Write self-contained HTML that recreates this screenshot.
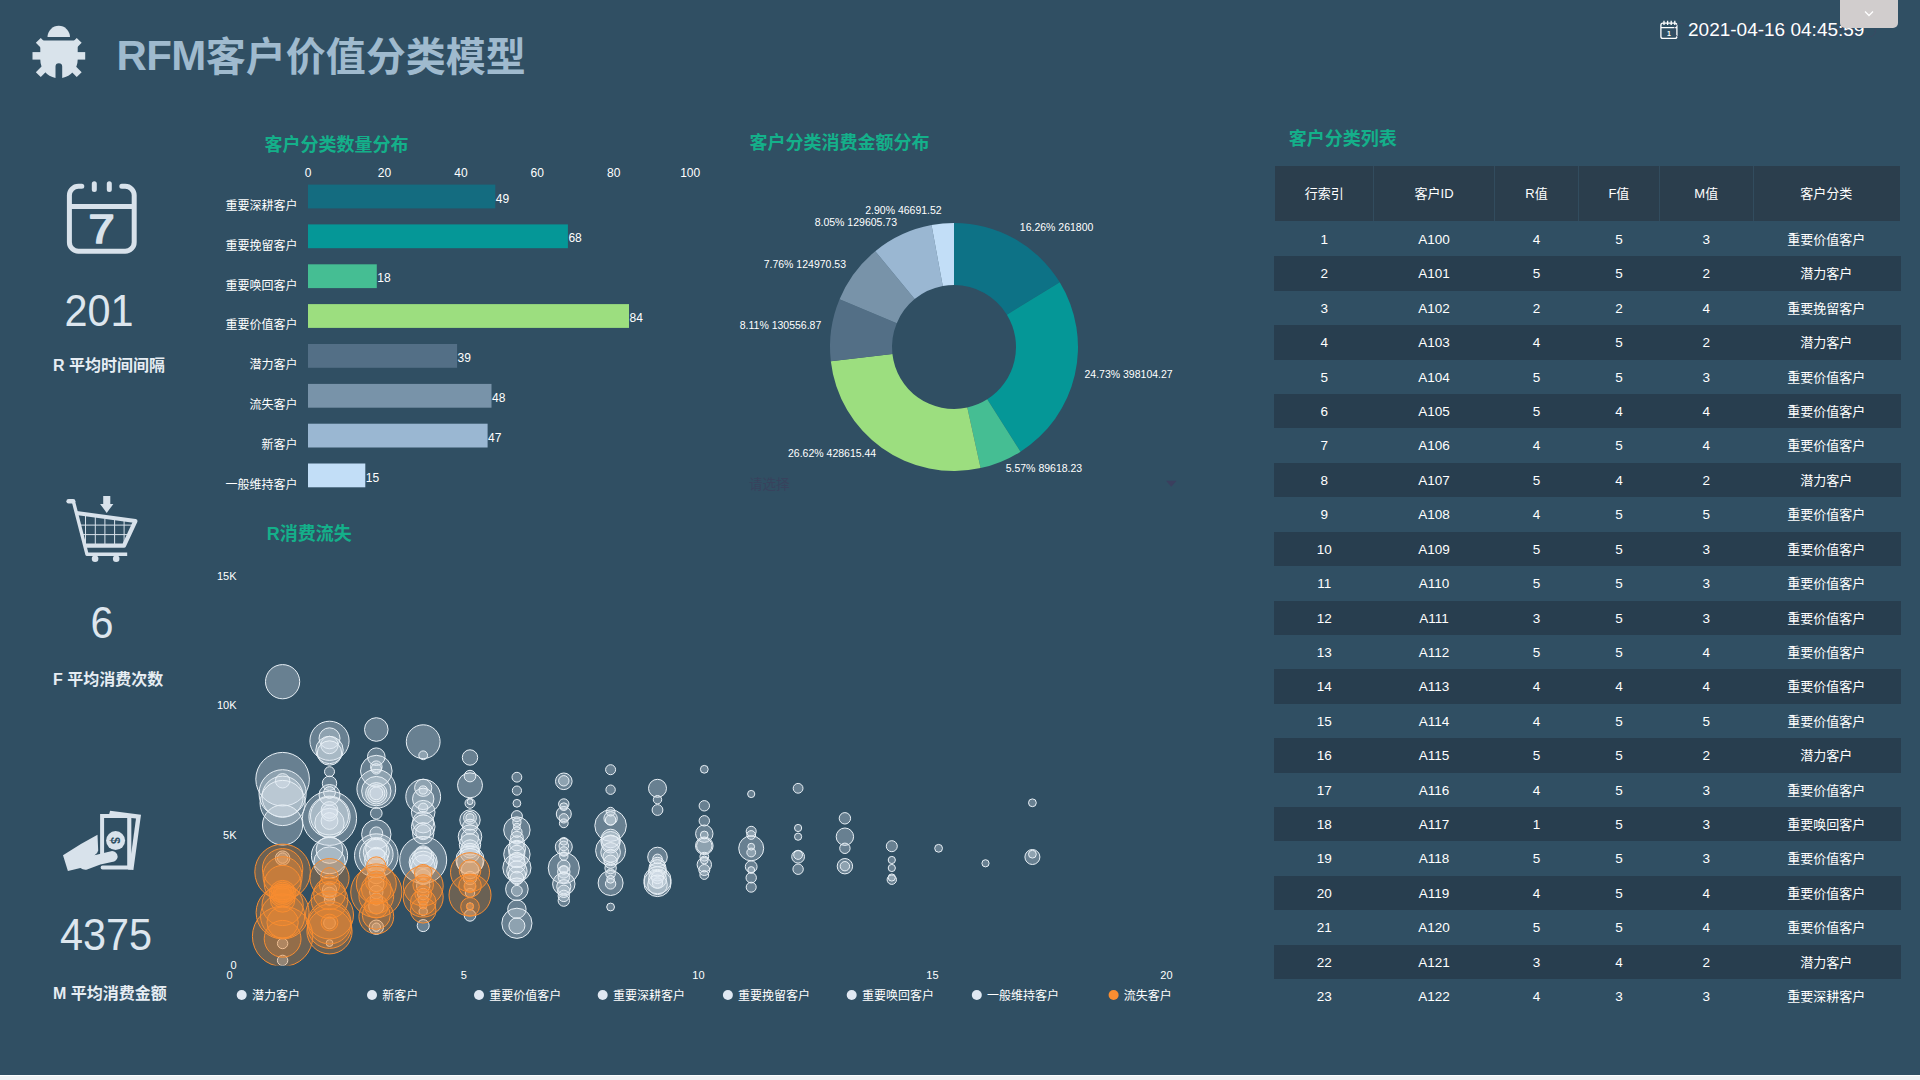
<!DOCTYPE html>
<html lang="zh-CN"><head><meta charset="utf-8"><title>RFM客户价值分类模型</title>
<style>
html,body{margin:0;padding:0}
body{width:1920px;height:1080px;overflow:hidden;background:#304f63;position:relative;font-family:"Liberation Sans","Noto Sans CJK SC",sans-serif;color:#fff}
.abs{position:absolute}
#bottom{position:absolute;left:0;top:1075px;width:1920px;height:5px;background:#f0f2f4;border-top:1px solid #fff;box-sizing:border-box}
#title{position:absolute;left:116.5px;top:28px;font-size:40px;font-weight:bold;line-height:58px;color:#9fbace;white-space:nowrap;letter-spacing:0}
#date{position:absolute;left:1688px;top:18px;font-size:19px;line-height:24px;color:#fff;white-space:nowrap}
#ghost{position:absolute;left:1697px;top:18.5px;font-size:17.5px;line-height:24px;color:#3d4762;opacity:.8;white-space:nowrap}
#tab{position:absolute;left:1840px;top:0;width:58px;height:27.5px;background:#d1cdcd;border-radius:0 0 5px 5px}
.ct{position:absolute;font-size:18px;font-weight:bold;color:#14b08a;line-height:24px;white-space:nowrap}
.kn{position:absolute;font-size:45px;transform:scaleX(.92);line-height:48px;color:#dde6ee;white-space:nowrap;text-align:center;width:160px}
.kl{position:absolute;left:53px;font-size:16px;font-weight:bold;line-height:22px;color:#e6edf3;white-space:nowrap}
.tbl div{position:absolute}
.th{background:#2b3e4d}
.hc{top:166px;height:55px;line-height:55px;text-align:center;font-size:13px;color:#fff}
.sep{top:166px;width:1px;height:55px;background:#324c5e}
.dr{left:1274px;width:626.5px;height:34.42px;background:#283e4f}
.tc{height:34.42px;line-height:35px;text-align:center;font-size:13.5px;color:#fff;white-space:nowrap}
.tc.cj{font-size:13px}
#sel{position:absolute;left:749px;top:474.5px;font-size:13.5px;line-height:20px;color:#38425d}
svg text{font-family:"Liberation Sans","Noto Sans CJK SC",sans-serif}
</style></head><body>
<svg class="abs" style="left:0;top:0" width="1920" height="1080" viewBox="0 0 1920 1080">
<defs><clipPath id="plotclip"><rect x="180" y="540" width="1000" height="425.6"/></clipPath></defs>
<!-- bug icon -->
<g fill="#d9e3eb" stroke="none">
<path d="M47.5 37.1A11.25 11.25 0 0 1 70 37.1Z"/>
<path d="M40.3 40.4H77.7V59.5A18.7 18.75 0 0 1 62.2 77.9V66.6A3.35 3.35 0 0 0 55.5 66.6V77.9A18.7 18.75 0 0 1 40.3 59.5Z"/>
<rect x="32.5" y="52.1" width="12" height="7.5"/>
<rect x="73" y="52.1" width="12.2" height="7.5"/>
</g>
<g stroke="#d9e3eb" stroke-width="7" fill="none">
<path d="M38.3 40.4L46 48.1M79.2 40.4L71.5 48.1M38.3 74.6L46 66.9M79.2 74.6L71.5 66.9"/>
</g>
<!-- kpi calendar -->
<g fill="none" stroke="#d8e2eb" stroke-width="5" stroke-linecap="round" stroke-linejoin="round">
<path d="M81.8 186.3H78.4A9 9 0 0 0 69.4 195.3V242.2A9 9 0 0 0 78.4 251.2H125.2A9 9 0 0 0 134.2 242.2V195.3A9 9 0 0 0 125.2 186.3H121.8"/>
<path d="M69.4 206.5H134.2" stroke-linecap="butt"/>
<path d="M94.3 183.7V189.4M109.3 183.7V189.4"/>
</g>
<text transform="translate(101.6 243.3) scale(1.16 1)" x="0" y="0" font-size="40.5" text-anchor="middle" fill="#d8e2eb" stroke="#d8e2eb" stroke-width="1.7" stroke-linejoin="round" font-family="Liberation Sans, sans-serif">7</text>
<!-- cart -->
<g fill="none" stroke="#d8e2eb" stroke-linejoin="round">
<path d="M68.6 501.2H73.2" stroke-width="4.4" stroke-linecap="round"/><path d="M73.2 500.6L87 554.3H127.2" stroke-width="3.4" stroke-linecap="butt"/>
<path d="M76.4 513L135.4 521L124 545.6H86" stroke-width="4.2"/>
<path d="M85.5 516V545M95.3 517V545M104.9 518.5V545M114.6 520V545M124.1 521V544M80 525.1H133M82.5 534.6H129" stroke-width="1"/>
</g>
<g fill="#d8e2eb">
<circle cx="95.1" cy="558.8" r="3.3"/><circle cx="116.2" cy="558.8" r="3.3"/>
<path d="M103.2 496H110.3V503.9H113.4L106.7 512.9L100.1 503.9H103.2Z"/>
</g>
<!-- money -->
<path d="M110.1 810.7L141 814.8L133.4 870L128 869.6V814.1H109.2Z" fill="#d8e2eb"/>
<path d="M131.2 818.1L136 818.6L131.2 854Z" fill="#304f63"/>
<path d="M102.1 856V816.1H129.2V867.6H102.6" fill="none" stroke="#d8e2eb" stroke-width="4" stroke-linecap="round" stroke-linejoin="miter"/>
<circle cx="115.6" cy="840.6" r="9.5" fill="#d8e2eb"/>
<text x="115.6" y="840.6" font-size="12.5" font-weight="bold" fill="#304f63" text-anchor="middle" transform="rotate(90 115.6 840.6) translate(0 4.3)" font-family="Liberation Sans, sans-serif">$</text>
<path d="M63 855.2Q80 844 97.5 834.8L98.2 850.5Q97.8 853.2 94.5 855.3L110 851.4A5.2 5.2 0 0 1 114.2 861.6L100.4 864.4L87.1 869.6Q83.5 870.4 80.4 868.1L67.9 871.1Z" fill="#d8e2eb"/>
<!-- small calendar in header -->
<g fill="none" stroke="#fff" stroke-width="1.3">
<rect x="1660.9" y="23.2" width="16" height="15.2" rx="2"/>
<path d="M1661 27.6H1677M1664 20.8V25M1667.6 20.8V25M1671.2 20.8V25M1674.8 20.8V25"/>
</g>
<text x="1669" y="36" font-size="7" font-weight="bold" fill="#fff" text-anchor="middle" font-family="Liberation Serif, serif">1</text>
<!-- ghost clock -->
<circle cx="1681" cy="30.5" r="7" fill="none" stroke="#3d4762" stroke-opacity=".7" stroke-width="1"/><circle cx="1869" cy="30.5" r="6.5" fill="none" stroke="#3d4762" stroke-opacity=".7" stroke-width="1"/>

<g font-size="12" fill="#fff">
<text x="308.0" y="177.3" text-anchor="middle">0</text>
<text x="384.4" y="177.3" text-anchor="middle">20</text>
<text x="460.9" y="177.3" text-anchor="middle">40</text>
<text x="537.3" y="177.3" text-anchor="middle">60</text>
<text x="613.8" y="177.3" text-anchor="middle">80</text>
<text x="690.2" y="177.3" text-anchor="middle">100</text>
<rect x="308.0" y="184.6" width="187.3" height="23.8" fill="#146c80"/>
<text x="495.8" y="202.6">49</text>
<text x="297.5" y="209.9" text-anchor="end">重要深耕客户</text>
<rect x="308.0" y="224.4" width="259.9" height="23.8" fill="#059797"/>
<text x="568.4" y="242.4">68</text>
<text x="297.5" y="249.8" text-anchor="end">重要挽留客户</text>
<rect x="308.0" y="264.3" width="68.8" height="23.8" fill="#45be93"/>
<text x="377.3" y="282.3">18</text>
<text x="297.5" y="289.6" text-anchor="end">重要唤回客户</text>
<rect x="308.0" y="304.1" width="321.0" height="23.8" fill="#9cde7f"/>
<text x="629.5" y="322.1">84</text>
<text x="297.5" y="329.4" text-anchor="end">重要价值客户</text>
<rect x="308.0" y="344.0" width="149.1" height="23.8" fill="#536f86"/>
<text x="457.6" y="362.0">39</text>
<text x="297.5" y="369.3" text-anchor="end">潜力客户</text>
<rect x="308.0" y="383.9" width="183.5" height="23.8" fill="#7893a9"/>
<text x="492.0" y="401.9">48</text>
<text x="297.5" y="409.2" text-anchor="end">流失客户</text>
<rect x="308.0" y="423.7" width="179.6" height="23.8" fill="#9ab7d2"/>
<text x="488.1" y="441.7">47</text>
<text x="297.5" y="449.0" text-anchor="end">新客户</text>
<rect x="308.0" y="463.5" width="57.3" height="23.8" fill="#c2def7"/>
<text x="365.8" y="481.5">15</text>
<text x="297.5" y="488.8" text-anchor="end">一般维持客户</text>
</g>
<path d="M954.00 223.00A124 124 0 0 1 1059.77 282.28L1006.88 314.64A62 62 0 0 0 954.00 285.00Z" fill="#0d7286"/>
<path d="M1059.77 282.28A124 124 0 0 1 1020.51 451.65L987.25 399.33A62 62 0 0 0 1006.88 314.64Z" fill="#059797"/>
<path d="M1020.51 451.65A124 124 0 0 1 980.59 468.11L967.30 407.56A62 62 0 0 0 987.25 399.33Z" fill="#45be93"/>
<path d="M980.59 468.11A124 124 0 0 1 830.81 361.15L892.40 354.07A62 62 0 0 0 967.30 407.56Z" fill="#9cde7f"/>
<path d="M830.81 361.15A124 124 0 0 1 839.56 299.26L896.78 323.13A62 62 0 0 0 892.40 354.07Z" fill="#536f86"/>
<path d="M839.56 299.26A124 124 0 0 1 875.26 251.21L914.63 299.10A62 62 0 0 0 896.78 323.13Z" fill="#7893a9"/>
<path d="M875.26 251.21A124 124 0 0 1 931.53 225.05L942.77 286.03A62 62 0 0 0 914.63 299.10Z" fill="#9ab7d2"/>
<path d="M931.53 225.05A124 124 0 0 1 954.00 223.00L954.00 285.00A62 62 0 0 0 942.77 286.03Z" fill="#c2def7"/>
<g font-size="10.5" fill="#fff">
<text x="1019.8" y="231.3" text-anchor="start">16.26% 261800</text>
<text x="1084.5" y="378.0" text-anchor="start">24.73% 398104.27</text>
<text x="1005.7" y="471.6" text-anchor="start">5.57% 89618.23</text>
<text x="876.2" y="456.9" text-anchor="end">26.62% 428615.44</text>
<text x="821.3" y="329.1" text-anchor="end">8.11% 130556.87</text>
<text x="846.0" y="268.3" text-anchor="end">7.76% 124970.53</text>
<text x="897.0" y="226.4" text-anchor="end">8.05% 129605.73</text>
<text x="941.7" y="214.0" text-anchor="end">2.90% 46691.52</text>
</g>
<g clip-path="url(#plotclip)">
<g fill="#dfe8f2" fill-opacity="0.32" stroke="#e8f0f6" stroke-opacity="1" stroke-width="1">
<circle cx="282.6" cy="681.7" r="17.1"/>
<circle cx="282.6" cy="779.2" r="26.8"/>
<circle cx="282.6" cy="780.8" r="7.2"/>
<circle cx="282.6" cy="793.3" r="23.6"/>
<circle cx="282.6" cy="796.7" r="20.6"/>
<circle cx="282.6" cy="803.0" r="22.6"/>
<circle cx="282.6" cy="825.0" r="20.1"/>
<circle cx="282.6" cy="858.1" r="7.2"/>
<circle cx="282.6" cy="858.1" r="5.2"/>
<circle cx="282.6" cy="943.5" r="5.2"/>
<circle cx="282.6" cy="960.4" r="5.2"/>
<circle cx="329.5" cy="740.8" r="19.6"/>
<circle cx="329.5" cy="738.3" r="10.5"/>
<circle cx="329.5" cy="745.0" r="8.7"/>
<circle cx="329.5" cy="750.0" r="13.7"/>
<circle cx="329.5" cy="753.0" r="12.2"/>
<circle cx="329.5" cy="771.7" r="5.0"/>
<circle cx="329.5" cy="783.3" r="7.2"/>
<circle cx="329.5" cy="795.0" r="10.5"/>
<circle cx="329.5" cy="818.3" r="27.1"/>
<circle cx="329.5" cy="816.7" r="20.6"/>
<circle cx="329.5" cy="823.0" r="14.7"/>
<circle cx="329.5" cy="813.0" r="8.0"/>
<circle cx="329.5" cy="792.5" r="5.9"/>
<circle cx="329.5" cy="810.0" r="8.4"/>
<circle cx="329.5" cy="821.0" r="8.4"/>
<circle cx="329.5" cy="816.0" r="19.0"/>
<circle cx="329.5" cy="855.6" r="18.1"/>
<circle cx="329.5" cy="862.5" r="15.7"/>
<circle cx="329.5" cy="850.0" r="13.4"/>
<circle cx="329.5" cy="890.0" r="7.2"/>
<circle cx="329.5" cy="893.8" r="6.6"/>
<circle cx="329.5" cy="900.0" r="5.2"/>
<circle cx="329.5" cy="923.0" r="5.9"/>
<circle cx="329.5" cy="943.1" r="3.4"/>
<circle cx="376.3" cy="729.5" r="11.8"/>
<circle cx="376.3" cy="756.7" r="8.8"/>
<circle cx="376.3" cy="771.1" r="15.8"/>
<circle cx="376.3" cy="766.7" r="5.8"/>
<circle cx="376.3" cy="768.9" r="5.2"/>
<circle cx="376.3" cy="788.9" r="19.4"/>
<circle cx="376.3" cy="791.1" r="14.7"/>
<circle cx="376.3" cy="793.3" r="10.7"/>
<circle cx="376.3" cy="793.3" r="8.6"/>
<circle cx="376.3" cy="793.3" r="6.4"/>
<circle cx="376.3" cy="813.3" r="5.8"/>
<circle cx="376.3" cy="834.4" r="14.7"/>
<circle cx="376.3" cy="833.3" r="6.4"/>
<circle cx="376.3" cy="855.6" r="21.8"/>
<circle cx="376.3" cy="854.4" r="16.8"/>
<circle cx="376.3" cy="852.2" r="13.0"/>
<circle cx="376.3" cy="848.9" r="10.7"/>
<circle cx="376.3" cy="856.0" r="8.7"/>
<circle cx="376.3" cy="860.0" r="11.7"/>
<circle cx="376.3" cy="927.2" r="7.2"/>
<circle cx="376.3" cy="927.2" r="4.2"/>
<circle cx="376.3" cy="866.6" r="9.7"/>
<circle cx="376.3" cy="875.0" r="8.7"/>
<circle cx="376.3" cy="883.9" r="7.7"/>
<circle cx="376.3" cy="892.0" r="6.7"/>
<circle cx="376.3" cy="899.0" r="6.2"/>
<circle cx="376.3" cy="906.3" r="7.7"/>
<circle cx="423.2" cy="741.7" r="16.9"/>
<circle cx="423.2" cy="755.3" r="4.4"/>
<circle cx="423.2" cy="796.7" r="17.4"/>
<circle cx="423.2" cy="787.8" r="8.6"/>
<circle cx="423.2" cy="790.0" r="4.1"/>
<circle cx="423.2" cy="798.9" r="10.7"/>
<circle cx="423.2" cy="812.2" r="11.8"/>
<circle cx="423.2" cy="807.8" r="4.7"/>
<circle cx="423.2" cy="822.2" r="10.7"/>
<circle cx="423.2" cy="826.7" r="11.8"/>
<circle cx="423.2" cy="832.2" r="7.5"/>
<circle cx="423.2" cy="833.3" r="10.7"/>
<circle cx="423.2" cy="860.0" r="23.5"/>
<circle cx="423.2" cy="857.8" r="10.7"/>
<circle cx="423.2" cy="862.2" r="14.1"/>
<circle cx="423.2" cy="854.4" r="8.6"/>
<circle cx="423.2" cy="866.7" r="11.8"/>
<circle cx="423.2" cy="864.5" r="13.3"/>
<circle cx="423.2" cy="925.6" r="6.0"/>
<circle cx="423.2" cy="911.4" r="4.2"/>
<circle cx="423.2" cy="877.0" r="7.7"/>
<circle cx="423.2" cy="885.9" r="6.7"/>
<circle cx="423.2" cy="894.0" r="5.7"/>
<circle cx="423.2" cy="900.0" r="5.2"/>
<circle cx="423.2" cy="905.0" r="3.9"/>
<circle cx="470.0" cy="757.5" r="7.7"/>
<circle cx="470.0" cy="776.1" r="5.8"/>
<circle cx="470.0" cy="785.3" r="12.5"/>
<circle cx="470.0" cy="803.3" r="5.0"/>
<circle cx="470.0" cy="801.7" r="2.9"/>
<circle cx="470.0" cy="820.0" r="10.2"/>
<circle cx="470.0" cy="817.8" r="6.4"/>
<circle cx="470.0" cy="817.8" r="4.1"/>
<circle cx="470.0" cy="826.7" r="7.5"/>
<circle cx="470.0" cy="836.7" r="11.8"/>
<circle cx="470.0" cy="837.8" r="8.6"/>
<circle cx="470.0" cy="844.4" r="10.7"/>
<circle cx="470.0" cy="848.9" r="9.1"/>
<circle cx="470.0" cy="853.0" r="9.7"/>
<circle cx="470.0" cy="860.0" r="14.1"/>
<circle cx="470.0" cy="861.7" r="13.3"/>
<circle cx="470.0" cy="915.4" r="5.8"/>
<circle cx="470.0" cy="870.0" r="8.7"/>
<circle cx="470.0" cy="878.0" r="6.7"/>
<circle cx="470.0" cy="885.9" r="5.7"/>
<circle cx="470.0" cy="893.0" r="4.7"/>
<circle cx="470.0" cy="906.3" r="3.5"/>
<circle cx="516.9" cy="777.2" r="4.9"/>
<circle cx="516.9" cy="790.6" r="4.6"/>
<circle cx="516.9" cy="803.3" r="3.9"/>
<circle cx="516.9" cy="816.1" r="5.5"/>
<circle cx="516.9" cy="830.0" r="13.2"/>
<circle cx="516.9" cy="822.2" r="4.1"/>
<circle cx="516.9" cy="826.7" r="3.5"/>
<circle cx="516.9" cy="832.2" r="5.2"/>
<circle cx="516.9" cy="837.8" r="6.4"/>
<circle cx="516.9" cy="843.3" r="7.5"/>
<circle cx="516.9" cy="848.9" r="8.6"/>
<circle cx="516.9" cy="854.4" r="13.2"/>
<circle cx="516.9" cy="853.3" r="8.0"/>
<circle cx="516.9" cy="860.0" r="7.7"/>
<circle cx="516.9" cy="864.4" r="8.6"/>
<circle cx="516.9" cy="867.8" r="14.1"/>
<circle cx="516.9" cy="871.1" r="10.2"/>
<circle cx="516.9" cy="875.0" r="8.7"/>
<circle cx="516.9" cy="878.0" r="6.7"/>
<circle cx="516.9" cy="889.2" r="11.3"/>
<circle cx="516.9" cy="890.8" r="5.4"/>
<circle cx="516.9" cy="909.2" r="9.2"/>
<circle cx="516.9" cy="923.3" r="15.1"/>
<circle cx="516.9" cy="925.8" r="8.0"/>
<circle cx="563.8" cy="781.3" r="8.3"/>
<circle cx="563.8" cy="780.8" r="5.2"/>
<circle cx="563.8" cy="804.0" r="5.2"/>
<circle cx="563.8" cy="814.0" r="7.5"/>
<circle cx="563.8" cy="806.7" r="3.9"/>
<circle cx="563.8" cy="818.3" r="4.7"/>
<circle cx="563.8" cy="823.3" r="4.4"/>
<circle cx="563.8" cy="841.3" r="3.9"/>
<circle cx="563.8" cy="846.9" r="8.5"/>
<circle cx="563.8" cy="845.9" r="4.8"/>
<circle cx="563.8" cy="851.5" r="4.8"/>
<circle cx="563.8" cy="856.1" r="4.2"/>
<circle cx="563.8" cy="868.1" r="15.6"/>
<circle cx="563.8" cy="866.3" r="6.2"/>
<circle cx="563.8" cy="871.9" r="6.2"/>
<circle cx="563.8" cy="877.4" r="5.7"/>
<circle cx="563.8" cy="870.0" r="4.2"/>
<circle cx="563.8" cy="883.9" r="11.2"/>
<circle cx="563.8" cy="886.7" r="7.1"/>
<circle cx="563.8" cy="891.3" r="6.2"/>
<circle cx="563.8" cy="895.9" r="5.7"/>
<circle cx="563.8" cy="900.6" r="5.7"/>
<circle cx="610.6" cy="769.7" r="5.0"/>
<circle cx="610.6" cy="789.7" r="4.7"/>
<circle cx="610.6" cy="811.7" r="4.4"/>
<circle cx="610.6" cy="818.3" r="6.7"/>
<circle cx="610.6" cy="825.6" r="15.8"/>
<circle cx="610.6" cy="820.0" r="5.2"/>
<circle cx="610.6" cy="838.5" r="9.3"/>
<circle cx="610.6" cy="841.3" r="9.8"/>
<circle cx="610.6" cy="844.0" r="9.0"/>
<circle cx="610.6" cy="850.6" r="15.0"/>
<circle cx="610.6" cy="852.4" r="9.8"/>
<circle cx="610.6" cy="857.0" r="7.6"/>
<circle cx="610.6" cy="861.7" r="6.6"/>
<circle cx="610.6" cy="868.1" r="5.7"/>
<circle cx="610.6" cy="873.7" r="4.8"/>
<circle cx="610.6" cy="883.0" r="12.5"/>
<circle cx="610.6" cy="883.9" r="5.2"/>
<circle cx="610.6" cy="879.3" r="3.9"/>
<circle cx="610.6" cy="907.0" r="3.9"/>
<circle cx="657.5" cy="788.3" r="9.0"/>
<circle cx="657.5" cy="799.7" r="4.2"/>
<circle cx="657.5" cy="810.0" r="5.4"/>
<circle cx="657.5" cy="857.0" r="9.8"/>
<circle cx="657.5" cy="858.9" r="4.8"/>
<circle cx="657.5" cy="864.4" r="7.1"/>
<circle cx="657.5" cy="868.1" r="8.5"/>
<circle cx="657.5" cy="871.9" r="9.0"/>
<circle cx="657.5" cy="880.2" r="13.6"/>
<circle cx="657.5" cy="883.0" r="13.6"/>
<circle cx="657.5" cy="879.3" r="9.0"/>
<circle cx="657.5" cy="883.0" r="5.2"/>
<circle cx="657.5" cy="877.4" r="6.2"/>
<circle cx="657.5" cy="884.8" r="9.8"/>
<circle cx="704.3" cy="769.3" r="3.9"/>
<circle cx="704.3" cy="805.8" r="5.2"/>
<circle cx="704.3" cy="820.8" r="5.2"/>
<circle cx="704.3" cy="833.7" r="8.7"/>
<circle cx="704.3" cy="835.0" r="3.9"/>
<circle cx="704.3" cy="845.8" r="8.8"/>
<circle cx="704.3" cy="845.8" r="7.7"/>
<circle cx="704.3" cy="856.7" r="4.4"/>
<circle cx="704.3" cy="860.0" r="3.9"/>
<circle cx="704.3" cy="864.7" r="7.2"/>
<circle cx="704.3" cy="870.0" r="5.5"/>
<circle cx="704.3" cy="875.0" r="4.4"/>
<circle cx="751.2" cy="794.0" r="3.6"/>
<circle cx="751.2" cy="831.3" r="5.0"/>
<circle cx="751.2" cy="835.0" r="4.4"/>
<circle cx="751.2" cy="848.3" r="12.5"/>
<circle cx="751.2" cy="846.7" r="3.4"/>
<circle cx="751.2" cy="852.5" r="4.4"/>
<circle cx="751.2" cy="866.7" r="5.9"/>
<circle cx="751.2" cy="870.0" r="3.4"/>
<circle cx="751.2" cy="877.8" r="5.2"/>
<circle cx="751.2" cy="887.2" r="5.0"/>
<circle cx="798.1" cy="788.3" r="4.9"/>
<circle cx="798.1" cy="828.0" r="3.6"/>
<circle cx="798.1" cy="836.7" r="3.6"/>
<circle cx="798.1" cy="856.7" r="6.4"/>
<circle cx="798.1" cy="855.0" r="4.4"/>
<circle cx="798.1" cy="869.2" r="5.2"/>
<circle cx="844.9" cy="818.3" r="5.7"/>
<circle cx="844.9" cy="836.7" r="8.7"/>
<circle cx="844.9" cy="848.3" r="5.2"/>
<circle cx="844.9" cy="866.2" r="7.7"/>
<circle cx="844.9" cy="866.2" r="4.7"/>
<circle cx="891.8" cy="846.2" r="5.5"/>
<circle cx="891.8" cy="860.0" r="3.6"/>
<circle cx="891.8" cy="868.0" r="3.6"/>
<circle cx="891.8" cy="879.7" r="4.7"/>
<circle cx="891.8" cy="877.5" r="3.6"/>
<circle cx="938.6" cy="848.3" r="3.9"/>
<circle cx="985.5" cy="863.3" r="3.6"/>
<circle cx="1032.4" cy="802.8" r="3.9"/>
<circle cx="1032.4" cy="857.0" r="7.5"/>
<circle cx="1032.4" cy="854.2" r="3.9"/>
</g>
<g fill="#f98d31" fill-opacity="0.29" stroke="#f98d31" stroke-width="1">
<circle cx="282.6" cy="871.9" r="27.8"/>
<circle cx="282.6" cy="868.8" r="20.2"/>
<circle cx="282.6" cy="876.3" r="19.6"/>
<circle cx="282.6" cy="883.8" r="18.4"/>
<circle cx="282.6" cy="893.8" r="13.4"/>
<circle cx="282.6" cy="893.8" r="11.6"/>
<circle cx="282.6" cy="893.8" r="9.7"/>
<circle cx="282.6" cy="893.8" r="7.8"/>
<circle cx="282.6" cy="900.0" r="12.2"/>
<circle cx="282.6" cy="905.0" r="20.6"/>
<circle cx="282.6" cy="912.5" r="26.5"/>
<circle cx="282.6" cy="916.0" r="22.1"/>
<circle cx="282.6" cy="922.5" r="15.7"/>
<circle cx="282.6" cy="936.3" r="30.2"/>
<circle cx="282.6" cy="938.8" r="18.4"/>
<circle cx="329.5" cy="878.1" r="19.6"/>
<circle cx="329.5" cy="876.3" r="8.7"/>
<circle cx="329.5" cy="885.0" r="10.2"/>
<circle cx="329.5" cy="893.8" r="15.9"/>
<circle cx="329.5" cy="900.0" r="18.4"/>
<circle cx="329.5" cy="915.0" r="24.0"/>
<circle cx="329.5" cy="922.5" r="21.5"/>
<circle cx="329.5" cy="926.3" r="22.1"/>
<circle cx="329.5" cy="931.3" r="22.6"/>
<circle cx="329.5" cy="922.5" r="8.4"/>
<circle cx="376.3" cy="866.6" r="9.8"/>
<circle cx="376.3" cy="883.9" r="20.0"/>
<circle cx="376.3" cy="892.0" r="25.6"/>
<circle cx="376.3" cy="881.8" r="10.8"/>
<circle cx="376.3" cy="889.0" r="15.0"/>
<circle cx="376.3" cy="896.1" r="17.4"/>
<circle cx="376.3" cy="906.3" r="11.8"/>
<circle cx="376.3" cy="916.5" r="17.4"/>
<circle cx="376.3" cy="915.4" r="14.0"/>
<circle cx="423.2" cy="873.2" r="8.8"/>
<circle cx="423.2" cy="885.9" r="20.0"/>
<circle cx="423.2" cy="884.9" r="10.3"/>
<circle cx="423.2" cy="897.1" r="20.0"/>
<circle cx="423.2" cy="894.0" r="8.3"/>
<circle cx="423.2" cy="902.2" r="12.8"/>
<circle cx="423.2" cy="910.3" r="12.8"/>
<circle cx="423.2" cy="905.0" r="3.6"/>
<circle cx="470.0" cy="872.2" r="19.5"/>
<circle cx="470.0" cy="895.1" r="21.0"/>
<circle cx="470.0" cy="870.6" r="10.8"/>
<circle cx="470.0" cy="885.9" r="11.3"/>
<circle cx="470.0" cy="886.7" r="6.0"/>
<circle cx="470.0" cy="906.8" r="9.3"/>
<circle cx="470.0" cy="906.7" r="3.6"/>
</g></g>
<g font-size="11" fill="#fff">
<text x="236.5" y="580.4" text-anchor="end">15K</text>
<text x="236.5" y="709.3" text-anchor="end">10K</text>
<text x="236.5" y="838.8" text-anchor="end">5K</text>
<text x="236.5" y="968.9" text-anchor="end">0</text>
<text x="229.5" y="979.2" text-anchor="middle">0</text>
<text x="463.8" y="979.2" text-anchor="middle">5</text>
<text x="698.4" y="979.2" text-anchor="middle">10</text>
<text x="932.4" y="979.2" text-anchor="middle">15</text>
<text x="1166.4" y="979.2" text-anchor="middle">20</text>
</g>
<g font-size="12" fill="#fff">
<circle cx="241.7" cy="995" r="5" fill="#e0e8f2"/>
<text x="251.9" y="999.8">潜力客户</text>
<circle cx="372.0" cy="995" r="5" fill="#e0e8f2"/>
<text x="382.2" y="999.8">新客户</text>
<circle cx="479.0" cy="995" r="5" fill="#e0e8f2"/>
<text x="489.2" y="999.8">重要价值客户</text>
<circle cx="602.7" cy="995" r="5" fill="#e0e8f2"/>
<text x="612.9" y="999.8">重要深耕客户</text>
<circle cx="727.9" cy="995" r="5" fill="#e0e8f2"/>
<text x="738.1" y="999.8">重要挽留客户</text>
<circle cx="851.7" cy="995" r="5" fill="#e0e8f2"/>
<text x="861.9" y="999.8">重要唤回客户</text>
<circle cx="976.8" cy="995" r="5" fill="#e0e8f2"/>
<text x="987.0" y="999.8">一般维持客户</text>
<circle cx="1113.6" cy="995" r="5" fill="#f98d31"/>
<text x="1123.8" y="999.8">流失客户</text>
</g>
<path d="M1166 480.8h10.6l-5.3 6z" fill="#3b3f5e"/>
</svg>
<div id="title"><span style="font-size:42px;position:relative;top:-1.5px;letter-spacing:-0.6px">RFM</span>客户价值分类模型</div>
<div id="ghost">2021-04-16 04:45:59</div>
<div id="date">2021-04-16 04:45:59</div>
<div id="tab"></div>
<svg class="abs" style="left:1860px;top:8px" width="18" height="12" viewBox="0 0 18 12"><path d="M5 3.5l4 4 4-4" fill="none" stroke="#fff" stroke-width="1.3"/></svg>
<div class="ct" style="left:264.5px;top:132.8px">客户分类数量分布</div>
<div class="ct" style="left:749.5px;top:131px">客户分类消费金额分布</div>
<div class="ct" style="left:266.7px;top:521.6px">R消费流失</div>
<div class="ct" style="left:1288.8px;top:126.8px">客户分类列表</div>
<div class="kn" style="left:19px;top:286.6px">201</div>
<div class="kn" style="left:22px;top:599px">6</div>
<div class="kn" style="left:26px;top:911.4px">4375</div>
<div class="kl" style="top:354.5px">R 平均时间间隔</div>
<div class="kl" style="top:668.5px">F 平均消费次数</div>
<div class="kl" style="top:982.5px">M 平均消费金额</div>
<div id="sel">请选择</div>
<div class="tbl">
<div class="th" style="left:1275px;top:166px;width:624.5px;height:55px"></div>
<div class="hc" style="left:1275.0px;width:98.7px">行索引</div>
<div class="hc" style="left:1373.7px;width:120.8px">客户ID</div>
<div class="sep" style="left:1373.2px"></div>
<div class="hc" style="left:1494.5px;width:84.0px">R值</div>
<div class="sep" style="left:1494.0px"></div>
<div class="hc" style="left:1578.5px;width:80.8px">F值</div>
<div class="sep" style="left:1578.0px"></div>
<div class="hc" style="left:1659.3px;width:93.9px">M值</div>
<div class="sep" style="left:1658.8px"></div>
<div class="hc" style="left:1753.2px;width:146.3px">客户分类</div>
<div class="sep" style="left:1752.7px"></div>
<div class="tc" style="left:1275.0px;width:98.7px;top:221.90px">1</div>
<div class="tc" style="left:1373.7px;width:120.8px;top:221.90px">A100</div>
<div class="tc" style="left:1494.5px;width:84.0px;top:221.90px">4</div>
<div class="tc" style="left:1578.5px;width:80.8px;top:221.90px">5</div>
<div class="tc" style="left:1659.3px;width:93.9px;top:221.90px">3</div>
<div class="tc cj" style="left:1753.2px;width:146.3px;top:221.90px">重要价值客户</div>
<div class="dr" style="top:256.32px"></div>
<div class="tc" style="left:1275.0px;width:98.7px;top:256.32px">2</div>
<div class="tc" style="left:1373.7px;width:120.8px;top:256.32px">A101</div>
<div class="tc" style="left:1494.5px;width:84.0px;top:256.32px">5</div>
<div class="tc" style="left:1578.5px;width:80.8px;top:256.32px">5</div>
<div class="tc" style="left:1659.3px;width:93.9px;top:256.32px">2</div>
<div class="tc cj" style="left:1753.2px;width:146.3px;top:256.32px">潜力客户</div>
<div class="tc" style="left:1275.0px;width:98.7px;top:290.74px">3</div>
<div class="tc" style="left:1373.7px;width:120.8px;top:290.74px">A102</div>
<div class="tc" style="left:1494.5px;width:84.0px;top:290.74px">2</div>
<div class="tc" style="left:1578.5px;width:80.8px;top:290.74px">2</div>
<div class="tc" style="left:1659.3px;width:93.9px;top:290.74px">4</div>
<div class="tc cj" style="left:1753.2px;width:146.3px;top:290.74px">重要挽留客户</div>
<div class="dr" style="top:325.16px"></div>
<div class="tc" style="left:1275.0px;width:98.7px;top:325.16px">4</div>
<div class="tc" style="left:1373.7px;width:120.8px;top:325.16px">A103</div>
<div class="tc" style="left:1494.5px;width:84.0px;top:325.16px">4</div>
<div class="tc" style="left:1578.5px;width:80.8px;top:325.16px">5</div>
<div class="tc" style="left:1659.3px;width:93.9px;top:325.16px">2</div>
<div class="tc cj" style="left:1753.2px;width:146.3px;top:325.16px">潜力客户</div>
<div class="tc" style="left:1275.0px;width:98.7px;top:359.58px">5</div>
<div class="tc" style="left:1373.7px;width:120.8px;top:359.58px">A104</div>
<div class="tc" style="left:1494.5px;width:84.0px;top:359.58px">5</div>
<div class="tc" style="left:1578.5px;width:80.8px;top:359.58px">5</div>
<div class="tc" style="left:1659.3px;width:93.9px;top:359.58px">3</div>
<div class="tc cj" style="left:1753.2px;width:146.3px;top:359.58px">重要价值客户</div>
<div class="dr" style="top:394.00px"></div>
<div class="tc" style="left:1275.0px;width:98.7px;top:394.00px">6</div>
<div class="tc" style="left:1373.7px;width:120.8px;top:394.00px">A105</div>
<div class="tc" style="left:1494.5px;width:84.0px;top:394.00px">5</div>
<div class="tc" style="left:1578.5px;width:80.8px;top:394.00px">4</div>
<div class="tc" style="left:1659.3px;width:93.9px;top:394.00px">4</div>
<div class="tc cj" style="left:1753.2px;width:146.3px;top:394.00px">重要价值客户</div>
<div class="tc" style="left:1275.0px;width:98.7px;top:428.42px">7</div>
<div class="tc" style="left:1373.7px;width:120.8px;top:428.42px">A106</div>
<div class="tc" style="left:1494.5px;width:84.0px;top:428.42px">4</div>
<div class="tc" style="left:1578.5px;width:80.8px;top:428.42px">5</div>
<div class="tc" style="left:1659.3px;width:93.9px;top:428.42px">4</div>
<div class="tc cj" style="left:1753.2px;width:146.3px;top:428.42px">重要价值客户</div>
<div class="dr" style="top:462.84px"></div>
<div class="tc" style="left:1275.0px;width:98.7px;top:462.84px">8</div>
<div class="tc" style="left:1373.7px;width:120.8px;top:462.84px">A107</div>
<div class="tc" style="left:1494.5px;width:84.0px;top:462.84px">5</div>
<div class="tc" style="left:1578.5px;width:80.8px;top:462.84px">4</div>
<div class="tc" style="left:1659.3px;width:93.9px;top:462.84px">2</div>
<div class="tc cj" style="left:1753.2px;width:146.3px;top:462.84px">潜力客户</div>
<div class="tc" style="left:1275.0px;width:98.7px;top:497.26px">9</div>
<div class="tc" style="left:1373.7px;width:120.8px;top:497.26px">A108</div>
<div class="tc" style="left:1494.5px;width:84.0px;top:497.26px">4</div>
<div class="tc" style="left:1578.5px;width:80.8px;top:497.26px">5</div>
<div class="tc" style="left:1659.3px;width:93.9px;top:497.26px">5</div>
<div class="tc cj" style="left:1753.2px;width:146.3px;top:497.26px">重要价值客户</div>
<div class="dr" style="top:531.68px"></div>
<div class="tc" style="left:1275.0px;width:98.7px;top:531.68px">10</div>
<div class="tc" style="left:1373.7px;width:120.8px;top:531.68px">A109</div>
<div class="tc" style="left:1494.5px;width:84.0px;top:531.68px">5</div>
<div class="tc" style="left:1578.5px;width:80.8px;top:531.68px">5</div>
<div class="tc" style="left:1659.3px;width:93.9px;top:531.68px">3</div>
<div class="tc cj" style="left:1753.2px;width:146.3px;top:531.68px">重要价值客户</div>
<div class="tc" style="left:1275.0px;width:98.7px;top:566.10px">11</div>
<div class="tc" style="left:1373.7px;width:120.8px;top:566.10px">A110</div>
<div class="tc" style="left:1494.5px;width:84.0px;top:566.10px">5</div>
<div class="tc" style="left:1578.5px;width:80.8px;top:566.10px">5</div>
<div class="tc" style="left:1659.3px;width:93.9px;top:566.10px">3</div>
<div class="tc cj" style="left:1753.2px;width:146.3px;top:566.10px">重要价值客户</div>
<div class="dr" style="top:600.52px"></div>
<div class="tc" style="left:1275.0px;width:98.7px;top:600.52px">12</div>
<div class="tc" style="left:1373.7px;width:120.8px;top:600.52px">A111</div>
<div class="tc" style="left:1494.5px;width:84.0px;top:600.52px">3</div>
<div class="tc" style="left:1578.5px;width:80.8px;top:600.52px">5</div>
<div class="tc" style="left:1659.3px;width:93.9px;top:600.52px">3</div>
<div class="tc cj" style="left:1753.2px;width:146.3px;top:600.52px">重要价值客户</div>
<div class="tc" style="left:1275.0px;width:98.7px;top:634.94px">13</div>
<div class="tc" style="left:1373.7px;width:120.8px;top:634.94px">A112</div>
<div class="tc" style="left:1494.5px;width:84.0px;top:634.94px">5</div>
<div class="tc" style="left:1578.5px;width:80.8px;top:634.94px">5</div>
<div class="tc" style="left:1659.3px;width:93.9px;top:634.94px">4</div>
<div class="tc cj" style="left:1753.2px;width:146.3px;top:634.94px">重要价值客户</div>
<div class="dr" style="top:669.36px"></div>
<div class="tc" style="left:1275.0px;width:98.7px;top:669.36px">14</div>
<div class="tc" style="left:1373.7px;width:120.8px;top:669.36px">A113</div>
<div class="tc" style="left:1494.5px;width:84.0px;top:669.36px">4</div>
<div class="tc" style="left:1578.5px;width:80.8px;top:669.36px">4</div>
<div class="tc" style="left:1659.3px;width:93.9px;top:669.36px">4</div>
<div class="tc cj" style="left:1753.2px;width:146.3px;top:669.36px">重要价值客户</div>
<div class="tc" style="left:1275.0px;width:98.7px;top:703.78px">15</div>
<div class="tc" style="left:1373.7px;width:120.8px;top:703.78px">A114</div>
<div class="tc" style="left:1494.5px;width:84.0px;top:703.78px">4</div>
<div class="tc" style="left:1578.5px;width:80.8px;top:703.78px">5</div>
<div class="tc" style="left:1659.3px;width:93.9px;top:703.78px">5</div>
<div class="tc cj" style="left:1753.2px;width:146.3px;top:703.78px">重要价值客户</div>
<div class="dr" style="top:738.20px"></div>
<div class="tc" style="left:1275.0px;width:98.7px;top:738.20px">16</div>
<div class="tc" style="left:1373.7px;width:120.8px;top:738.20px">A115</div>
<div class="tc" style="left:1494.5px;width:84.0px;top:738.20px">5</div>
<div class="tc" style="left:1578.5px;width:80.8px;top:738.20px">5</div>
<div class="tc" style="left:1659.3px;width:93.9px;top:738.20px">2</div>
<div class="tc cj" style="left:1753.2px;width:146.3px;top:738.20px">潜力客户</div>
<div class="tc" style="left:1275.0px;width:98.7px;top:772.62px">17</div>
<div class="tc" style="left:1373.7px;width:120.8px;top:772.62px">A116</div>
<div class="tc" style="left:1494.5px;width:84.0px;top:772.62px">4</div>
<div class="tc" style="left:1578.5px;width:80.8px;top:772.62px">5</div>
<div class="tc" style="left:1659.3px;width:93.9px;top:772.62px">3</div>
<div class="tc cj" style="left:1753.2px;width:146.3px;top:772.62px">重要价值客户</div>
<div class="dr" style="top:807.04px"></div>
<div class="tc" style="left:1275.0px;width:98.7px;top:807.04px">18</div>
<div class="tc" style="left:1373.7px;width:120.8px;top:807.04px">A117</div>
<div class="tc" style="left:1494.5px;width:84.0px;top:807.04px">1</div>
<div class="tc" style="left:1578.5px;width:80.8px;top:807.04px">5</div>
<div class="tc" style="left:1659.3px;width:93.9px;top:807.04px">3</div>
<div class="tc cj" style="left:1753.2px;width:146.3px;top:807.04px">重要唤回客户</div>
<div class="tc" style="left:1275.0px;width:98.7px;top:841.46px">19</div>
<div class="tc" style="left:1373.7px;width:120.8px;top:841.46px">A118</div>
<div class="tc" style="left:1494.5px;width:84.0px;top:841.46px">5</div>
<div class="tc" style="left:1578.5px;width:80.8px;top:841.46px">5</div>
<div class="tc" style="left:1659.3px;width:93.9px;top:841.46px">3</div>
<div class="tc cj" style="left:1753.2px;width:146.3px;top:841.46px">重要价值客户</div>
<div class="dr" style="top:875.88px"></div>
<div class="tc" style="left:1275.0px;width:98.7px;top:875.88px">20</div>
<div class="tc" style="left:1373.7px;width:120.8px;top:875.88px">A119</div>
<div class="tc" style="left:1494.5px;width:84.0px;top:875.88px">4</div>
<div class="tc" style="left:1578.5px;width:80.8px;top:875.88px">5</div>
<div class="tc" style="left:1659.3px;width:93.9px;top:875.88px">4</div>
<div class="tc cj" style="left:1753.2px;width:146.3px;top:875.88px">重要价值客户</div>
<div class="tc" style="left:1275.0px;width:98.7px;top:910.30px">21</div>
<div class="tc" style="left:1373.7px;width:120.8px;top:910.30px">A120</div>
<div class="tc" style="left:1494.5px;width:84.0px;top:910.30px">5</div>
<div class="tc" style="left:1578.5px;width:80.8px;top:910.30px">5</div>
<div class="tc" style="left:1659.3px;width:93.9px;top:910.30px">4</div>
<div class="tc cj" style="left:1753.2px;width:146.3px;top:910.30px">重要价值客户</div>
<div class="dr" style="top:944.72px"></div>
<div class="tc" style="left:1275.0px;width:98.7px;top:944.72px">22</div>
<div class="tc" style="left:1373.7px;width:120.8px;top:944.72px">A121</div>
<div class="tc" style="left:1494.5px;width:84.0px;top:944.72px">3</div>
<div class="tc" style="left:1578.5px;width:80.8px;top:944.72px">4</div>
<div class="tc" style="left:1659.3px;width:93.9px;top:944.72px">2</div>
<div class="tc cj" style="left:1753.2px;width:146.3px;top:944.72px">潜力客户</div>
<div class="tc" style="left:1275.0px;width:98.7px;top:979.14px">23</div>
<div class="tc" style="left:1373.7px;width:120.8px;top:979.14px">A122</div>
<div class="tc" style="left:1494.5px;width:84.0px;top:979.14px">4</div>
<div class="tc" style="left:1578.5px;width:80.8px;top:979.14px">3</div>
<div class="tc" style="left:1659.3px;width:93.9px;top:979.14px">3</div>
<div class="tc cj" style="left:1753.2px;width:146.3px;top:979.14px">重要深耕客户</div>
</div>
<div id="bottom"></div>
</body></html>
